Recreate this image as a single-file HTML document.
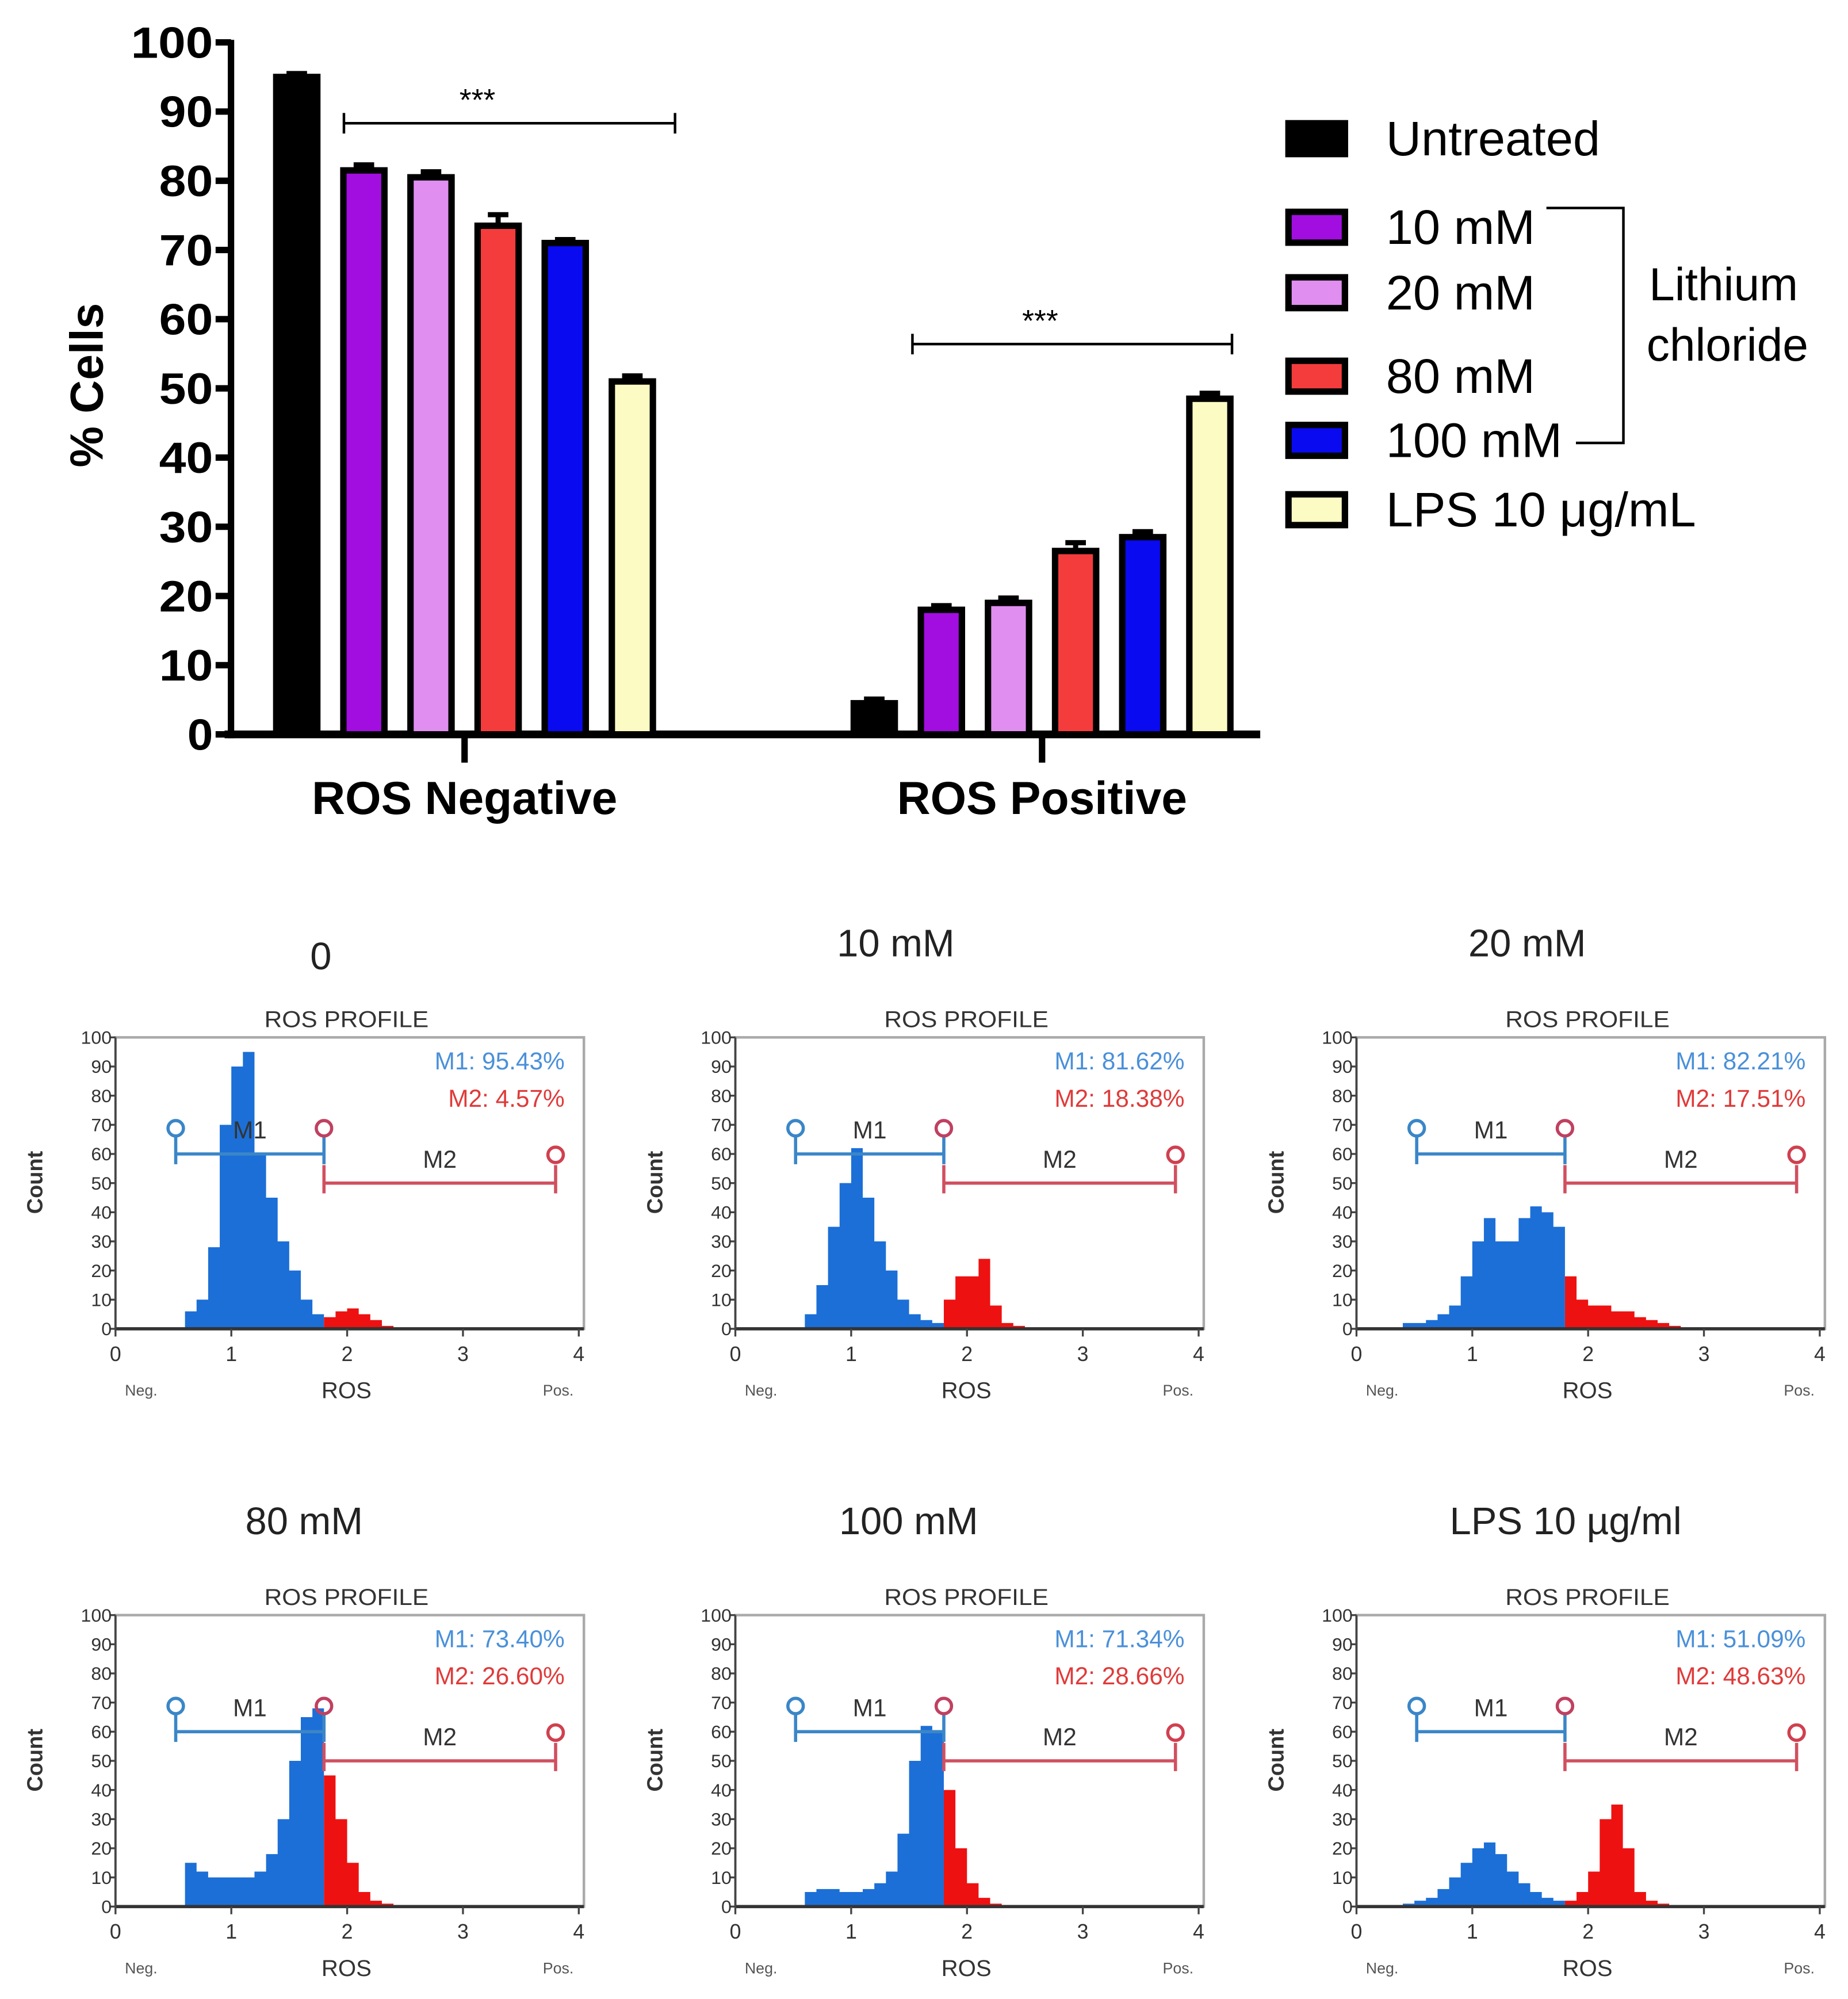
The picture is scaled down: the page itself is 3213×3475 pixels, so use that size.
<!DOCTYPE html>
<html><head><meta charset="utf-8"><style>
html,body{margin:0;padding:0;background:#fff;}
svg{display:block;}
</style></head><body>
<svg id="fig" width="3213" height="3475" viewBox="0 0 1440 1557" preserveAspectRatio="none" xmlns="http://www.w3.org/2000/svg" font-family="Liberation Sans, sans-serif">
<rect width="1440" height="1557" fill="#fff"/>
<g id="bar-chart"></g>
<g id="legend"></g>
<g id="hists"></g>
</svg>
<script>
const NS="http://www.w3.org/2000/svg";
const groups=["ROS Negative","ROS Positive"];
const seriesNames=["Untreated","10 mM","20 mM","80 mM","100 mM","LPS 10 μg/mL"];
const seriesColors=["#000000","#a20ee0","#e08ef0","#f43c3c","#0a0af0","#fdfbc4"];
const valuesNeg=[95,81.5,80.5,73.5,71,51];
const valuesPos=[4.5,18,19,26.5,28.5,48.5];
const errNeg=[0.5,0.8,0.8,1.6,0.5,0.8];
const errPos=[0.6,0.6,0.7,1.2,0.8,0.8];
const yTicks=[0,10,20,30,40,50,60,70,80,90,100];

function el(tag,attrs,parent,text){const e=document.createElementNS(NS,tag);for(const k in attrs)e.setAttribute(k,attrs[k]);if(text!==undefined)e.textContent=text;parent.appendChild(e);return e;}

// ---- bar chart ----
const bc=document.getElementById('bar-chart');
const y0=572,y100=33;
const yS=v=>y0-(y0-y100)*v/100;
const groupCenter=[362,812];
const barStep=52.3,barW=32;
const bx=(g,i)=>groupCenter[g]+(i-2.5)*barStep;
let a=el('line',{x1:180,y1:y0+3,x2:180,y2:y100-2,stroke:'#000','stroke-width':5},bc);

a=el('line',{x1:175,y1:y0,x2:982,y2:y0,stroke:'#000','stroke-width':6},bc);

yTicks.forEach(t=>{
 const y=yS(t);
 let l=el('line',{x1:168,y1:y,x2:180,y2:y,stroke:'#000','stroke-width':5},bc);
 
 let tx=el('text',{x:166,y:y+12,'text-anchor':'end','font-size':34,'font-weight':'bold',textLength:t==100?64:(t==0?20:42),lengthAdjust:'spacingAndGlyphs'},bc,String(t));
 
});
let yt=el('text',{x:0,y:0,transform:'translate(80,300) rotate(-90)','text-anchor':'middle','font-size':36,'font-weight':'bold'},bc,'% Cells');

groups.forEach((g,gi)=>{
 let l=el('line',{x1:groupCenter[gi],y1:y0,x2:groupCenter[gi],y2:y0+22,stroke:'#000','stroke-width':5},bc);
 
 let t=el('text',{x:groupCenter[gi],y:634,'text-anchor':'middle','font-size':36,'font-weight':'bold'},bc,g);
 
 const vals=gi==0?valuesNeg:valuesPos, errs=gi==0?errNeg:errPos;
 vals.forEach((v,i)=>{
  const cx=bx(gi,i), top=yS(v);
  const eb=el('path',{d:`M${cx},${top} V${yS(v+errs[i])} M${cx-8},${yS(v+errs[i])} H${cx+8}`,stroke:'#000','stroke-width':4,fill:'none'},bc);
  
  const r=el('rect',{x:cx-barW/2,y:top,width:barW,height:y0-top,fill:seriesColors[i],stroke:'#000','stroke-width':5},bc);
  
 });
});
function sig(x1,x2,y){
 const p=el('path',{d:`M${x1},${y-8} V${y+8} M${x1},${y} H${x2} M${x2},${y-8} V${y+8}`,stroke:'#000','stroke-width':2,fill:'none'},bc);
 
 const t=el('text',{x:(x1+x2)/2-25,y:y-10,'text-anchor':'middle','font-size':24},bc,'***');
 
}
sig(268,526,96);sig(711,960,268);

// ---- legend ----
const lg=document.getElementById('legend');
const legY=[108,177,228,293,343,397];
seriesNames.forEach((n,i)=>{
 const r=el('rect',{x:1004,y:legY[i]-12,width:44,height:24,fill:seriesColors[i],stroke:'#000','stroke-width':5},lg);
 
 const t=el('text',{x:1080,y:legY[i]+13,'font-size':38},lg,n);
 
});
let br=el('path',{d:'M1205,162 H1265 V345 H1228',stroke:'#000','stroke-width':2,fill:'none'},lg);

let lt=el('text',{x:1285,y:234,'font-size':36},lg,'Lithium');

lt=el('text',{x:1283,y:281,'font-size':36},lg,'chloride');


// ---- histograms (bins of 0.1 from 0 to 4) ----
const hist0=[0,0,0,0,0,0,6,10,28,70,90,95,60,45,30,20,10,5,4,6,7,5,3,1,0,0,0,0,0,0,0,0,0,0,0,0,0,0,0,0];
const hist10=[0,0,0,0,0,0,5,15,35,50,62,45,30,20,10,5,3,2,10,18,18,24,8,2,1,0,0,0,0,0,0,0,0,0,0,0,0,0,0,0];
const hist20=[0,0,0,0,2,2,3,5,8,18,30,38,30,30,38,42,40,35,18,10,8,8,6,6,4,3,2,1,0,0,0,0,0,0,0,0,0,0,0,0];
const hist80=[0,0,0,0,0,0,15,12,10,10,10,10,12,18,30,50,65,68,45,30,15,5,2,1,0,0,0,0,0,0,0,0,0,0,0,0,0,0,0,0];
const hist100=[0,0,0,0,0,0,5,6,6,5,5,6,8,12,25,50,62,60,40,20,8,3,1,0,0,0,0,0,0,0,0,0,0,0,0,0,0,0,0,0];
const histLPS=[0,0,0,0,1,2,3,6,10,15,20,22,18,12,8,5,3,2,2,5,12,30,35,20,5,2,1,0,0,0,0,0,0,0,0,0,0,0,0,0];
const panelTitles=["0","10 mM","20 mM","80 mM","100 mM","LPS 10 µg/ml"];
const m1Values=["95.43%","81.62%","82.21%","73.40%","71.34%","51.09%"];
const m2Values=["4.57%","18.38%","17.51%","26.60%","28.66%","48.63%"];
const panelHists=[hist0,hist10,hist20,hist80,hist100,histLPS];
const gateSplit=1.8, m1Start=0.52, m2End=3.8;

const hg=document.getElementById('hists');
const colX=[90,573,1057], rowY=[808,1258];
const titleY=[[755,745,745],[1195,1195,1195]];
const titleX=[[250,698,1190],[237,708,1220]];
panelHists.forEach((h,p)=>{
 const c=p%3,r=Math.floor(p/3);
 const L=colX[c],T=rowY[r],W=365,H=227,B=T+H;
 const g=el('g',{},hg);
 
 const xs=v=>L+(W-4)*v/4, ys=v=>B-H*v/100;
 let t=el('text',{x:titleX[r][c],y:titleY[r][c],'text-anchor':'middle','font-size':30,fill:'#222'},g,panelTitles[p]);
 
 t=el('text',{x:L+180,y:T-8,'text-anchor':'middle','font-size':18,fill:'#333',textLength:128,lengthAdjust:'spacingAndGlyphs'},g,'ROS PROFILE');
 
 let box=el('rect',{x:L,y:T,width:W,height:H,fill:'none',stroke:'#aaa','stroke-width':2},g);
 
 let blue='',red='';
 h.forEach((v,i)=>{
  const x0=i*0.1,x1=x0+0.1;
  if(v<=0)return;
  const seg=`M${xs(x0)},${B} V${ys(v)} H${xs(x1)} V${B} Z `;
  if(x0<gateSplit-0.001)blue+=seg;else red+=seg;
 });
 let f=el('path',{d:blue||'M0,0',fill:'#1c6fd6'},g);
 f=el('path',{d:red||'M0,0',fill:'#ee1111'},g);
 let ax=el('line',{x1:L,y1:B,x2:L+W,y2:B,stroke:'#333','stroke-width':2.5},g);
 
 ax=el('line',{x1:L,y1:T,x2:L,y2:B,stroke:'#444','stroke-width':1.5},g);
 
 yTicks.forEach(v=>{
  let l=el('line',{x1:L-4,y1:ys(v),x2:L,y2:ys(v),stroke:'#444','stroke-width':1.5},g);
  
  let tt=el('text',{x:L-3,y:ys(v)+5,'text-anchor':'end','font-size':14,fill:'#333',textLength:v==100?24:(v==0?8:16),lengthAdjust:'spacingAndGlyphs'},g,String(v));
  
 });
 [0,1,2,3,4].forEach(v=>{
  let l=el('line',{x1:xs(v),y1:B,x2:xs(v),y2:B+6,stroke:'#444','stroke-width':1.5},g);
  
  let tt=el('text',{x:xs(v),y:B+25,'text-anchor':'middle','font-size':16,fill:'#333'},g,String(v));
  
 });
 t=el('text',{x:L+20,y:B+52,'text-anchor':'middle','font-size':12,fill:'#555'},g,'Neg.');
 t=el('text',{x:L+180,y:B+54,'text-anchor':'middle','font-size':18,fill:'#333'},g,'ROS');
 t=el('text',{x:L+345,y:B+52,'text-anchor':'middle','font-size':12,fill:'#555'},g,'Pos.');
 t=el('text',{x:0,y:0,transform:`translate(${L-57},${T+113}) rotate(-90)`,'text-anchor':'middle','font-size':17,'font-weight':'bold',fill:'#333'},g,'Count');
 t=el('text',{x:L+350,y:T+25,'text-anchor':'end','font-size':19,fill:'#4a90d9'},g,'M1: '+m1Values[p]);
 t=el('text',{x:L+350,y:T+54,'text-anchor':'end','font-size':19,fill:'#e03a3a'},g,'M2: '+m2Values[p]);
 const gx1=xs(m1Start),gx2=xs(gateSplit),gx3=xs(m2End),gy1=ys(60),gy2=ys(50);
 let gp=el('path',{d:`M${gx1},${gy1-14} V${gy1+8} M${gx1},${gy1} H${gx2} M${gx2},${gy1-14} V${gy1+8}`,stroke:'#3a86c8','stroke-width':2.5,fill:'none'},g);
 
 el('circle',{cx:gx1,cy:gy1-20,r:6,fill:'none',stroke:'#3a86c8','stroke-width':2.5},g);
 el('circle',{cx:gx2,cy:gy1-20,r:6,fill:'none',stroke:'#c04060','stroke-width':2.5},g);
 gp=el('path',{d:`M${gx2},${gy2-14} V${gy2+8} M${gx2},${gy2} H${gx3} M${gx3},${gy2-14} V${gy2+8}`,stroke:'#d05060','stroke-width':2.5,fill:'none'},g);
 
 el('circle',{cx:gx3,cy:gy2-22,r:6,fill:'none',stroke:'#d04050','stroke-width':2.5},g);
 t=el('text',{x:(gx1+gx2)/2,y:gy1-12,'text-anchor':'middle','font-size':19,fill:'#333'},g,'M1');
 t=el('text',{x:(gx2+gx3)/2,y:gy2-12,'text-anchor':'middle','font-size':19,fill:'#333'},g,'M2');
});
</script>
</body></html>
